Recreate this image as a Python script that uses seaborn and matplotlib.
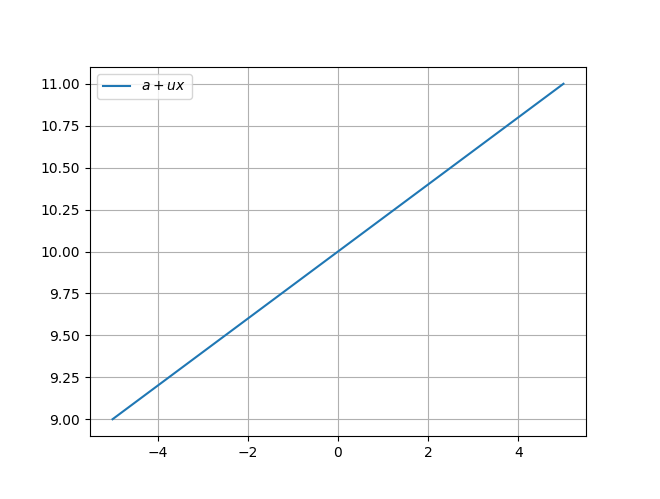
import matplotlib
matplotlib.use("Agg")
import matplotlib.pyplot as plt
import seaborn as sns
import pandas as pd

x_vals = [-5, 5]
y_vals = [9.0, 11.0]
label = r"$a + ux$"

df = pd.DataFrame({"x": x_vals, "y": y_vals})

fig, ax = plt.subplots(figsize=(6.6, 4.99), dpi=100)
fig.subplots_adjust(left=90/660, right=586/660, bottom=63/499, top=432/499)
sns.lineplot(data=df, x="x", y="y", ax=ax, label=label, color="#1f77b4")
ax.set_xlabel("")
ax.set_ylabel("")
ax.grid(True)
ax.legend(loc="upper left")
fig.savefig("out.png", dpi=100)
